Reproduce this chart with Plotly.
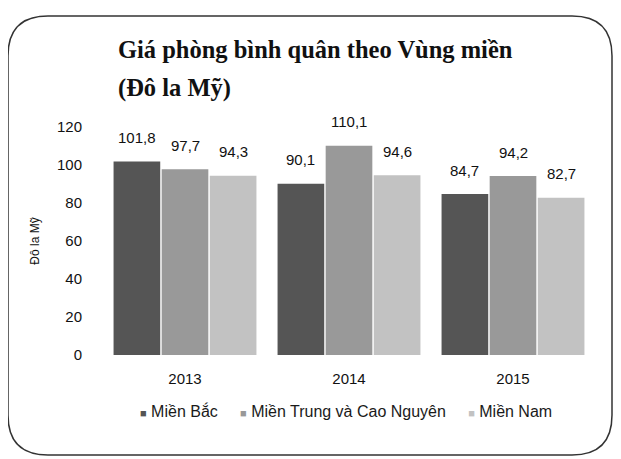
import plotly.graph_objects as go

years = ["2013", "2014", "2015"]
series_names = ["Miền Bắc", "Miền Trung và Cao Nguyên", "Miền Nam"]
mien_bac = [101.8, 90.1, 84.7]
mien_trung = [97.7, 110.1, 94.2]
mien_nam = [94.3, 94.6, 82.7]
y_ticks = [0, 20, 40, 60, 80, 100, 120]

colors = ["#555555", "#999999", "#c2c2c2"]
OFF = 8  # page body margin offset
W, H = 621 - OFF, 459 - OFF
# plot area in reference pixels
PX0, PX1, PY0, PY1 = 103, 595, 127, 355
L, R, T, B = PX0 - OFF, (W + OFF) - PX1, PY0 - OFF, (H + OFF) - PY1

SANS = "Liberation Sans, Arial, sans-serif"
SERIF = "Liberation Serif, Times New Roman, serif"
BARGAP = 0.12

def fmt(v):
    return f"{v:.1f}".replace(".", ",")

def X(px):
    return (px - PX0) / (PX1 - PX0)

def Y(py):
    return (PY1 - py) / (PY1 - PY0)

fig = go.Figure()
all_series = [mien_bac, mien_trung, mien_nam]
n = len(all_series)
bw = (1 - BARGAP) / n
for k, (name, vals, c) in enumerate(zip(series_names, all_series, colors)):
    fig.add_trace(go.Bar(
        x=years, y=vals, name=name,
        marker=dict(color=c, line=dict(width=0)),
        showlegend=False,
    ))
    for i, v in enumerate(vals):
        fig.add_annotation(x=i + (k - (n - 1) / 2) * bw, y=v, xref="x", yref="y",
                           text=fmt(v), showarrow=False, yanchor="middle", yshift=24,
                           font=dict(family=SANS, size=15, color="#111111"))

# rounded border
x0, y0, x1, y1, r = 8, 16, 612, 455, 40
path = (f"M {X(x0+r)},{Y(y0)} L {X(x1-r)},{Y(y0)} Q {X(x1)},{Y(y0)} {X(x1)},{Y(y0+r)} "
        f"L {X(x1)},{Y(y1-r)} Q {X(x1)},{Y(y1)} {X(x1-r)},{Y(y1)} "
        f"L {X(x0+r)},{Y(y1)} Q {X(x0)},{Y(y1)} {X(x0)},{Y(y1-r)} "
        f"L {X(x0)},{Y(y0+r)} Q {X(x0)},{Y(y0)} {X(x0+r)},{Y(y0)} Z")
fig.add_shape(type="path", path=path, xref="paper", yref="paper",
              line=dict(color="#333333", width=1.5), layer="below")

fig.add_annotation(text="<b>Giá phòng bình quân theo Vùng miền</b>", x=X(116), y=Y(50),
                   xref="paper", yref="paper", xanchor="left", yanchor="middle",
                   showarrow=False, font=dict(family=SERIF, size=24.5, color="#111111"))
fig.add_annotation(text="<b>(Đô la Mỹ)</b>", x=X(116), y=Y(88),
                   xref="paper", yref="paper", xanchor="left", yanchor="middle",
                   showarrow=False, font=dict(family=SERIF, size=24.5, color="#111111"))

# legend row
legend_text = "     ".join(
    f"<span style='color:{c};font-size:11px'>■</span> {nm}" for nm, c in zip(series_names, colors)
)
fig.add_annotation(text=legend_text, x=X(138), y=Y(411), xref="paper", yref="paper",
                   xanchor="left", yanchor="middle", showarrow=False,
                   font=dict(family=SANS, size=16, color="#1a1a1a"))

fig.update_layout(
    width=W, height=H,
    margin=dict(l=L, r=R, t=T, b=B, autoexpand=False),
    paper_bgcolor="white", plot_bgcolor="white",
    barmode="group", bargap=BARGAP, bargroupgap=0.03,
    showlegend=False,
    font=dict(family=SANS, size=15, color="#111111"),
    xaxis=dict(showline=False, ticks="", tickfont=dict(size=15), showgrid=False, ticklabelstandoff=13),
    yaxis=dict(range=[0, 120], tickvals=y_ticks, showgrid=False, zeroline=False, showline=False,
               ticks="", tickfont=dict(size=15), ticklabelstandoff=20,
               title=dict(text="Đô la Mỹ", font=dict(size=12), standoff=14)),
)

fig.write_html("out.html")
